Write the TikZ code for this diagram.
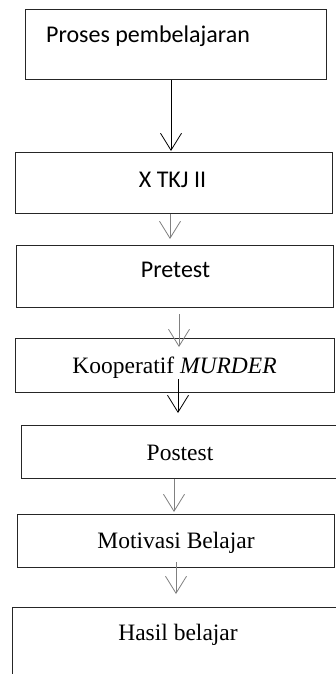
\documentclass[tikz,border=0pt]{standalone}
\usepackage{fontspec}
\setmainfont{Liberation Serif}
\newfontfamily\calfont{Carlito}
\usetikzlibrary{arrows.meta}
\begin{document}
\begin{tikzpicture}[x=1pt,y=-1pt,
  box/.style={draw=black!85, line width=1pt, inner sep=0pt},
  sanstxt/.style={font=\calfont\fontsize{24}{28}\selectfont, inner sep=0pt},
  seriftxt/.style={font=\fontsize{23.5}{28}\selectfont, inner sep=0pt},
  arr/.style={-{Straight Barb[length=17pt,width=21pt]}, line width=0.8pt},
  garr/.style={arr, draw=gray}]
\clip (0,0) rectangle (336,674);
\fill[white] (0,0) rectangle (336,674);
% boxes
\node[box, minimum width=301pt, minimum height=70pt] (b1) at (175.5,45) {};
\node[box, minimum width=317pt, minimum height=61pt] (b2) at (173.5,182.5) {};
\node[box, minimum width=317pt, minimum height=62pt] (b3) at (174.5,276) {};
\node[box, minimum width=319pt, minimum height=54pt] (b4) at (174.5,365) {};
\node[box, minimum width=339pt, minimum height=53pt] (b5) at (190.5,451.5) {};
\node[box, minimum width=317pt, minimum height=53pt] (b6) at (175.5,540.5) {};
\node[box, minimum width=348pt, minimum height=93pt] (b7) at (186,653.5) {};
% texts
\node[sanstxt, anchor=base west] (l1) at (46,43) {Proses pembelajaran};
\node[sanstxt, anchor=base] (l2) at (172.5,187) {X TKJ II};
\node[sanstxt, anchor=base] (l3) at (175.5,277) {Pretest};
\node[seriftxt, anchor=base] (l4) at (174.5,373) {Kooperatif \textit{MURDER}};
\node[seriftxt, anchor=base] (l5) at (180,460) {Postest};
\node[seriftxt, anchor=base] (l6) at (176,548) {Motivasi Belajar};
\node[seriftxt, anchor=base] (l7) at (178,640) {Hasil belajar};
% arrow coordinates
\coordinate (t1) at (171,151);
\coordinate (t2) at (170,239);
\coordinate (s3) at (179,314);
\coordinate (t3) at (179,347);
\coordinate (s4) at (178,379);
\coordinate (t4) at (178,413);
\coordinate (t5) at (174,512);
\coordinate (s6) at (176,562);
\coordinate (t6) at (176,594);
% arrows
\draw[arr] (t1 |- b1.south) -- (t1);
\draw[garr] (t2 |- b2.south) -- (t2);
\draw[garr] (s3) -- (t3);
\draw[arr] (s4) -- (t4);
\draw[garr] (t5 |- b5.south) -- (t5);
\draw[garr] (s6) -- (t6);
\end{tikzpicture}
\end{document}
